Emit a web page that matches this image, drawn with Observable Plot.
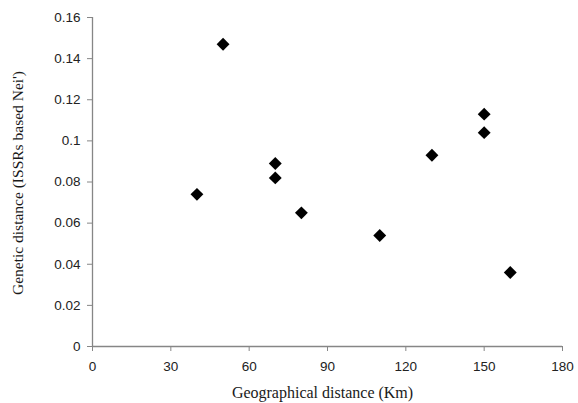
<!DOCTYPE html>
<html>
<head>
<meta charset="utf-8">
<script src="https://cdn.jsdelivr.net/npm/d3@7"></script>
<script src="https://cdn.jsdelivr.net/npm/@observablehq/plot@0.6"></script>
<style>
  html, body { margin: 0; padding: 0; background: #fff; }
</style>
</head>
<body>
<div id="chart"></div>
<script>
const geoDistance = [40, 50, 70, 70, 80, 110, 130, 150, 150, 160];
const geneticDistance = [0.074, 0.147, 0.089, 0.082, 0.065, 0.054, 0.093, 0.113, 0.104, 0.036];
const xTicks = [0, 30, 60, 90, 120, 150, 180];
const yTicks = [0, 0.02, 0.04, 0.06, 0.08, 0.1, 0.12, 0.14, 0.16];
const xLabel = "Geographical distance (Km)";
const yLabel = "Genetic distance (ISSRs based Nei')";

const data = geoDistance.map((x, i) => ({x, y: geneticDistance[i]}));
const axisColor = "#868686";
const tickFont = "'Liberation Sans', Arial, sans-serif";
const labelFont = "'Liberation Serif', 'DejaVu Serif', serif";
const fmtY = d => String(+d.toFixed(2));

const chart = Plot.plot({
  width: 578,
  height: 403,
  marginLeft: 92,
  marginRight: 16,
  marginTop: 17,
  marginBottom: 57,
  style: {background: "#fff", color: "#222"},
  x: {domain: [0, 180]},
  y: {domain: [0, 0.16]},
  marks: [
    Plot.axisX({ticks: xTicks, tickFormat: d => String(d), tickSize: 5, tickPadding: 10, stroke: axisColor, strokeOpacity: 1,
      fill: "#222", fontSize: 13.5, fontFamily: tickFont, label: null}),
    Plot.axisY({ticks: yTicks, tickFormat: fmtY, tickSize: 5, tickPadding: 7, stroke: axisColor, strokeOpacity: 1,
      fill: "#222", fontSize: 13.5, fontFamily: tickFont, label: null}),
    Plot.ruleX([0], {stroke: axisColor, strokeWidth: 1.3}),
    Plot.ruleY([0], {stroke: axisColor, strokeWidth: 1.3}),
    Plot.dot(data, {x: "x", y: "y", symbol: "diamond2", r: 5.8, fill: "#000", stroke: "none"}),
    Plot.text([xLabel], {frameAnchor: "bottom", textAnchor: "middle", dx: -5, dy: 51, fontFamily: labelFont, fontSize: 16, fill: "#1a1a1a"}),
    Plot.text([yLabel], {frameAnchor: "left", textAnchor: "middle", rotate: -90, dx: -74, dy: 1, fontFamily: labelFont, fontSize: 15.5, fill: "#1a1a1a"})
  ]
});
document.getElementById("chart").appendChild(chart);
</script>
</body>
</html>
